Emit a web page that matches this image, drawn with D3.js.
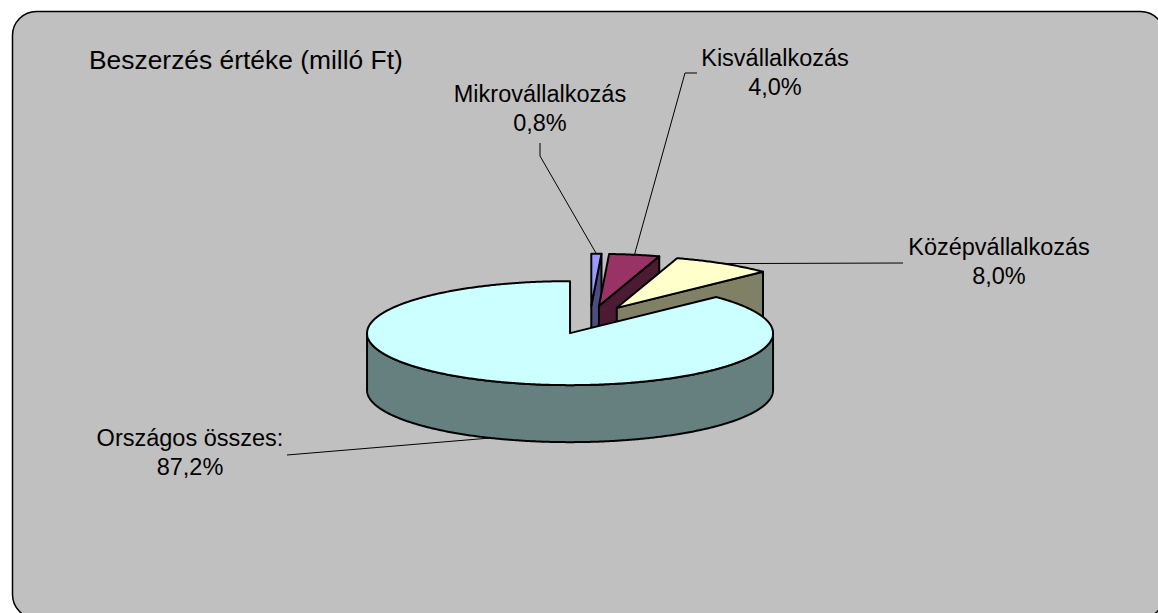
<!DOCTYPE html>
<html>
<head>
<meta charset="utf-8">
<script src="https://cdn.jsdelivr.net/npm/d3@7"></script>
<style>
  html, body { margin: 0; padding: 0; background: #ffffff; }
  svg { display: block; }
  text { font-family: "Liberation Sans", Arial, sans-serif; fill: #000; }
</style>
</head>
<body>
<script>
// ---- data ----
const chartTitle = "Beszerzés értéke (milló Ft)";
const categories = ["Mikrovállalkozás", "Kisvállalkozás", "Középvállalkozás", "Országos összes:"];
const shares = [0.8, 4.0, 8.0, 87.2];
const valueLabels = ["0,8%", "4,0%", "8,0%", "87,2%"];
const topColors = ["#9999FF", "#993366", "#FFFFCC", "#CCFFFF"];
const sideColors = ["#4D4D80", "#4D1A33", "#808066", "#668080"];

// ---- layout ----
const W = 1158, H = 613;
const cx = 590, cy = 320;          // pie centre before explosion
const rx = 203, ry = 52, depth = 57;
const explode = 51, explodeTilt = 0.28;
const labelFont = 23.5, titleFont = 26.4, lineGap = 29;

const svg = d3.select("body").append("svg")
  .attr("width", W).attr("height", H);

// rounded chart panel
svg.append("rect")
  .attr("x", 12.5).attr("y", 11.5)
  .attr("width", 1152).attr("height", 607)
  .attr("rx", 24).attr("ry", 24)
  .attr("fill", "#C0C0C0")
  .attr("stroke", "#000").attr("stroke-width", 1.5);

svg.append("text")
  .attr("x", 89).attr("y", 69)
  .attr("font-size", titleFont)
  .text(chartTitle);

// ---- 3D pie geometry ----
const arcs = d3.pie().sort(null).value(d => d)(shares);
const STEP = Math.PI / 360;

arcs.forEach((a, i) => {
  a.index = i;
  a.mid = (a.startAngle + a.endAngle) / 2;
  a.c = [cx + explode * Math.sin(a.mid), cy - explode * explodeTilt * Math.cos(a.mid)];
});

function rim(c, t, dz) {
  return [c[0] + rx * Math.sin(t), c[1] - ry * Math.cos(t) + dz];
}
function sweep(c, t0, t1, dz) {
  const pts = [];
  const n = Math.max(2, Math.ceil(Math.abs(t1 - t0) / STEP));
  for (let k = 0; k <= n; k++) pts.push(rim(c, t0 + (t1 - t0) * k / n, dz));
  return pts;
}
const line = d3.line();
const poly = pts => line(pts) + "Z";

const g = svg.append("g")
  .attr("stroke", "#000").attr("stroke-width", 2)
  .attr("stroke-linejoin", "round");

// paint from back to front
const order = arcs.slice().sort((p, q) => (-Math.cos(p.mid)) - (-Math.cos(q.mid)));

order.forEach(a => {
  const c = a.c, t0 = a.startAngle, t1 = a.endAngle, i = a.index;
  const cb = [c[0], c[1] + depth];

  // outer wall, front half only
  const lo = Math.max(t0, Math.PI / 2), hi = Math.min(t1, 3 * Math.PI / 2);
  if (hi > lo) {
    const pts = sweep(c, lo, hi, 0).concat(sweep(c, hi, lo, depth));
    g.append("path").attr("d", poly(pts)).attr("fill", sideColors[i]);
  }
  // radial walls facing the viewer
  if (Math.sin(t1) > 1e-6) {
    g.append("path").attr("d", poly([c, rim(c, t1, 0), rim(c, t1, depth), cb]))
      .attr("fill", sideColors[i]);
  }
  if (Math.sin(t0) < -1e-6) {
    g.append("path").attr("d", poly([c, rim(c, t0, 0), rim(c, t0, depth), cb]))
      .attr("fill", sideColors[i]);
  }
  // top face
  g.append("path").attr("d", poly([c].concat(sweep(c, t0, t1, 0))))
    .attr("fill", topColors[i]);
});

// ---- labels and leader lines ----
const labelPos = [
  { x: 540, y: 102, leader: a => [[540, 143], [540, 156], rim(a.c, a.mid, 0)] },
  { x: 775, y: 66,  leader: a => [[697, 73], [685, 73], rim(a.c, a.mid, 0)] },
  { x: 999, y: 255, leader: a => [[903, 263], rim(a.c, a.mid, 0)] },
  { x: 190, y: 446, leader: a => [[287, 455], rim(a.c, a.mid, depth)] }
];

arcs.forEach((a, i) => {
  const p = labelPos[i];
  svg.append("path")
    .attr("d", line(p.leader(a)))
    .attr("fill", "none").attr("stroke", "#000").attr("stroke-width", 1);
  const t = svg.append("text")
    .attr("text-anchor", "middle")
    .attr("font-size", labelFont);
  t.append("tspan").attr("x", p.x).attr("y", p.y).text(categories[i]);
  t.append("tspan").attr("x", p.x).attr("y", p.y + lineGap).text(valueLabels[i]);
});
</script>
</body>
</html>
